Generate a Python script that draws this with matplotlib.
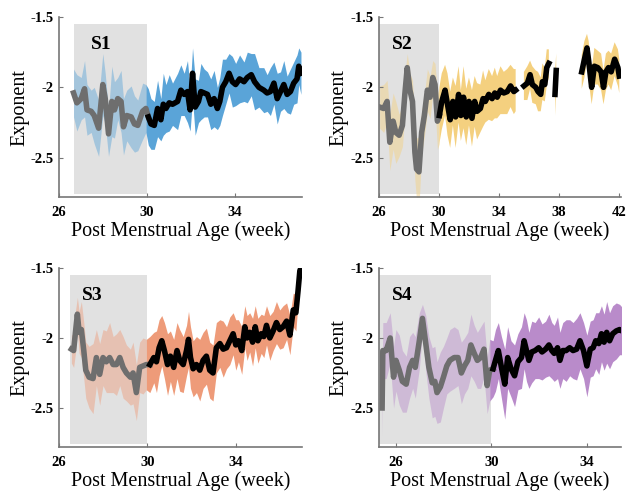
import numpy as np
import matplotlib
matplotlib.use('Agg')
import matplotlib.pyplot as plt
from matplotlib.patches import Rectangle

plt.rcParams['font.family'] = ['Liberation Serif', 'DejaVu Serif']

# ---- data ----
# S1
s1_x = [26.66, 26.81, 27.01, 27.16, 27.27, 27.46, 27.6, 27.8, 27.99, 28.1, 28.25, 28.4, 28.52, 28.67, 28.82,
        28.93, 29.08, 29.28, 29.43, 29.58, 29.8, 29.95,
        30.06, 30.18, 30.33, 30.48, 30.63, 30.74, 30.86, 31.01, 31.16, 31.39,
        31.54, 31.69, 31.84, 31.96, 32.07, 32.19, 32.34, 32.45, 32.6, 32.75,
        32.9, 33.05, 33.2, 33.31, 33.43, 33.58, 33.73, 33.88, 34.03, 34.21,
        34.41, 34.56, 34.74, 34.89, 35.09, 35.31, 35.46, 35.61, 35.77, 35.92,
        36.07, 36.22, 36.37, 36.52, 36.67, 36.82, 36.9, 37.0]
s1_mean = [-2.04, -2.11, -2.08, -2.01, -2.16, -2.17, -2.2, -2.29, -1.98, -2.08, -2.33, -2.1, -2.16, -2.08, -2.1,
           -2.28, -2.2, -2.21, -2.26, -2.27, -2.17, -2.15,
           -2.21, -2.26, -2.27, -2.15, -2.23, -2.12, -2.15, -2.11, -2.12, -2.1,
           -2.02, -2.05, -2.03, -2.16, -1.9, -2.14, -2.1, -2.03, -2.04, -2.05,
           -2.12, -2.08, -2.15, -2.1, -2.0, -1.96, -1.9, -1.96, -1.98, -1.94,
           -1.96, -1.93, -1.91, -1.96, -2.0, -2.02, -2.04, -2.03, -1.97, -2.08,
           -2.03, -1.98, -2.05, -2.03, -1.97, -1.94, -1.85, -1.9]
s1_sd = [0.17, 0.2, 0.15, 0.2, 0.18, 0.15, 0.2, 0.2, 0.22, 0.18, 0.16, 0.25, 0.2, 0.15, 0.22,
         0.2, 0.18, 0.22, 0.2, 0.18, 0.2, 0.17,
         0.2, 0.18, 0.17, 0.2, 0.15, 0.22, 0.17, 0.2, 0.15, 0.2,
         0.18, 0.15, 0.22, 0.15, 0.18, 0.2, 0.15, 0.2, 0.17, 0.16,
         0.18, 0.2, 0.15, 0.17, 0.2, 0.16, 0.14, 0.18, 0.15, 0.17,
         0.14, 0.18, 0.15, 0.2, 0.14, 0.16, 0.13, 0.17, 0.15, 0.18,
         0.14, 0.17, 0.13, 0.16, 0.15, 0.17, 0.13, 0.15]

# S2 (nan = missing weeks)
nan = np.nan
s2_x = [26.04, 26.31, 26.54, 26.72, 26.94, 27.12, 27.34, 27.56, 27.72, 27.88, 28.06, 28.23, 28.39, 28.5,
        28.66, 28.84, 29.02, 29.22, 29.4, 29.58, 29.73, 29.89, 30.02,
        30.18, 30.4, 30.56, 30.74, 30.92, 31.1, 31.3, 31.45, 31.63, 31.81, 31.99, 32.19, 32.37, 32.53,
        32.75, 32.93, 33.08, 33.31, 33.53, 33.71, 33.87, 34.09, 34.31, 34.54, 34.76, 34.98, 35.1,
        35.3,
        35.65, 35.88, 36.06, 36.21, 36.44, 36.59, 36.77, 36.88, 37.04, 37.17, 37.31,
        37.5,
        37.72, 37.8,
        38.5,
        39.5, 39.68, 39.85, 39.96, 40.16, 40.34, 40.57, 40.79, 40.95, 41.11, 41.28, 41.46, 41.69, 41.91, 42.0]
s2_mean = [-2.14, -2.15, -2.1, -2.39, -2.24, -2.32, -2.34, -2.27, -2.05, -1.86, -2.02, -2.1, -2.46, -2.58,
           -2.6, -2.32, -2.2, -2.02, -2.07, -1.93, -1.98, -2.24, -2.2,
           -2.1, -2.02, -2.12, -2.23, -2.1, -2.21, -2.05, -2.2, -2.07, -2.21, -2.1, -2.22, -2.1, -2.17,
           -2.15, -2.08, -2.1, -2.05, -2.08, -2.04, -2.07, -2.02, -2.04, -2.03, -1.99, -2.03, -2.02,
           nan,
           -1.99, -1.97, -1.91, -1.98, -2.0, -2.03, -2.05, -1.96, -1.98, -1.86, -1.83,
           nan,
           -2.05, -1.88,
           nan,
           -1.89, -1.8, -1.72, -1.81, -2.0, -1.85, -1.86, -1.89, -2.0, -1.89, -1.86, -1.89, -1.8, -1.86, -1.92]
s2_sd = [0.15, 0.17, 0.15, 0.2, 0.2, 0.22, 0.15, 0.15, 0.15, 0.1, 0.12, 0.15, 0.2, 0.22,
         0.25, 0.15, 0.15, 0.15, 0.15, 0.12, 0.15, 0.2, 0.2,
         0.2, 0.18, 0.22, 0.2, 0.17, 0.22, 0.2, 0.18, 0.22, 0.2, 0.17, 0.2, 0.18, 0.2,
         0.17, 0.2, 0.15, 0.18, 0.16, 0.18, 0.15, 0.17, 0.15, 0.16, 0.15, 0.16, 0.15,
         nan,
         0.1, 0.12, 0.1, 0.13, 0.12, 0.14, 0.12, 0.13, 0.12, 0.13, 0.1,
         nan,
         0.15, 0.12,
         nan,
         0.12, 0.13, 0.1, 0.14, 0.12, 0.13, 0.12, 0.13, 0.12, 0.13, 0.12, 0.13, 0.12, 0.13, 0.12]

# S3
s3_x = [26.56, 26.66, 26.75, 26.83, 26.91, 27.01, 27.12, 27.21, 27.36, 27.54, 27.69, 27.84, 27.99, 28.14,
        28.29, 28.45, 28.6, 28.75, 28.9, 29.05, 29.23, 29.35, 29.5, 29.65, 29.8, 29.95,
        30.11, 30.29, 30.41, 30.53, 30.65, 30.77, 30.91, 31.04, 31.19, 31.34,
        31.46, 31.62, 31.77, 31.86, 31.95, 32.07, 32.22, 32.37, 32.52, 32.67,
        32.82, 32.97, 33.12, 33.28, 33.43, 33.58, 33.73, 33.88, 34.0, 34.12,
        34.27, 34.41, 34.51, 34.63, 34.76, 34.88, 35.0, 35.15, 35.27, 35.39,
        35.54, 35.69, 35.84, 35.99, 36.14, 36.3, 36.45, 36.6, 36.72, 36.82, 36.9, 36.95]
s3_mean = [-2.08, -2.09, -1.95, -1.83, -1.96, -1.94, -2.09, -2.23, -2.28, -2.29, -2.14, -2.26, -2.14, -2.17,
           -2.14, -2.19, -2.19, -2.14, -2.21, -2.25, -2.28, -2.25, -2.39, -2.21, -2.2, -2.19,
           -2.19, -2.14, -2.17, -2.07, -2.02, -2.09, -2.19, -2.13, -2.21, -2.09,
           -2.16, -2.19, -2.09, -2.01, -2.14, -2.22, -2.19, -2.23, -2.16, -2.13,
           -2.23, -2.25, -2.07, -2.04, -2.08, -2.07, -2.02, -1.97, -2.05, -2.02,
           -2.09, -1.92, -2.0, -1.96, -2.03, -1.92, -2.02, -1.97, -1.99, -1.91,
           -2.0, -1.95, -1.89, -1.94, -1.92, -1.88, -1.98, -1.8, -1.82, -1.66, -1.52, -1.5]
s3_sd = [0.1, 0.12, 0.15, 0.12, 0.15, 0.2, 0.2, 0.2, 0.22, 0.25, 0.2, 0.22, 0.2, 0.22,
         0.25, 0.2, 0.22, 0.2, 0.22, 0.2, 0.2, 0.22, 0.2, 0.18, 0.2, 0.18,
         0.2, 0.18, 0.22, 0.2, 0.18, 0.2, 0.22, 0.18, 0.2, 0.2,
         0.22, 0.2, 0.18, 0.2, 0.22, 0.2, 0.2, 0.22, 0.2, 0.2,
         0.2, 0.2, 0.18, 0.17, 0.2, 0.15, 0.17, 0.15, 0.18, 0.15,
         0.17, 0.15, 0.16, 0.14, 0.17, 0.15, 0.16, 0.14, 0.15, 0.14,
         0.16, 0.14, 0.15, 0.14, 0.15, 0.13, 0.14, 0.12, 0.13, 0.08, 0.03, 0.02]

# S4
s4_x = [25.42, 25.45, 25.59, 25.76, 25.9, 26.0, 26.14, 26.27, 26.43, 26.57, 26.7, 26.81, 26.98, 27.11,
        27.25, 27.38, 27.52, 27.63, 27.72, 27.86, 27.99, 28.13, 28.26, 28.44, 28.6, 28.74, 28.87,
        29.01, 29.14, 29.28, 29.41, 29.55, 29.69, 29.82, 29.93,
        30.07, 30.17, 30.29, 30.42, 30.56, 30.68, 30.82, 30.97, 31.11, 31.26, 31.37, 31.47, 31.57,
        31.69, 31.83, 31.98, 32.12, 32.27, 32.41, 32.53, 32.63, 32.77, 32.87, 32.99, 33.13, 33.28,
        33.42, 33.57, 33.71, 33.86, 34.0, 34.14, 34.26, 34.37, 34.5, 34.61, 34.72, 34.83, 34.95,
        35.08, 35.23, 35.37, 35.47]
s4_mean = [-2.5, -2.09, -2.09, -2.0, -2.28, -2.16, -2.23, -2.31, -2.33, -2.21, -2.16, -2.21, -2.02, -1.86,
           -2.04, -2.21, -2.32, -2.31, -2.39, -2.35, -2.28, -2.2, -2.16, -2.14, -2.14, -2.25, -2.2,
           -2.16, -2.05, -2.11, -2.16, -2.14, -2.08, -2.34, -2.23,
           -2.22, -2.16, -2.09, -2.21, -2.33, -2.14, -2.22, -2.27, -2.17, -2.14, -2.02, -2.09, -2.16,
           -2.1, -2.09, -2.07, -2.1, -2.08, -2.05, -2.09, -2.11, -2.07, -2.16, -2.09, -2.09, -2.07,
           -2.09, -2.08, -2.02, -2.09, -2.2, -2.08, -2.07, -2.02, -2.04, -1.97, -2.03, -1.96, -2.02,
           -1.97, -1.95, -1.94, -1.95]
s4_sd = [0.2, 0.2, 0.2, 0.18, 0.22, 0.22, 0.25, 0.22, 0.2, 0.22, 0.2, 0.22, 0.2, 0.1,
         0.2, 0.22, 0.25, 0.25, 0.22, 0.25, 0.22, 0.2, 0.22, 0.22, 0.2, 0.22, 0.2,
         0.2, 0.22, 0.2, 0.2, 0.22, 0.2, 0.2, 0.22,
         0.2, 0.22, 0.2, 0.22, 0.25, 0.22, 0.2, 0.22, 0.2, 0.22, 0.2, 0.22, 0.2,
         0.22, 0.2, 0.22, 0.2, 0.2, 0.22, 0.2, 0.2, 0.22, 0.2, 0.2, 0.22, 0.2,
         0.2, 0.22, 0.2, 0.2, 0.22, 0.2, 0.2, 0.2, 0.22, 0.2, 0.2, 0.22, 0.2,
         0.2, 0.2, 0.18, 0.17]

subjects = ['S1', 'S2', 'S3', 'S4']
xs = [s1_x, s2_x, s3_x, s4_x]
means = [s1_mean, s2_mean, s3_mean, s4_mean]
sds = [s1_sd, s2_sd, s3_sd, s4_sd]
xlims = [(26, 37.05), (26, 42.1), (26, 37.0), (25.29, 35.42)]
xticks = [[26, 30, 34], [26, 30, 34, 38, 42], [26, 30, 34], [26, 30, 34]]
box_left = [26.68, 26.0, 26.5, 25.29]
band_colors = ['#5aa4d8', '#f4d07f', '#ee9b79', '#b98bca']
label_x = [0.13, 0.055, 0.095, 0.055]

# axes placement in figure fractions
positions = [[0.094, 0.604, 0.387, 0.362], [0.6035, 0.604, 0.385, 0.362],
             [0.094, 0.102, 0.387, 0.36], [0.6035, 0.102, 0.385, 0.36]]

fig = plt.figure(figsize=(6.28, 4.98), dpi=100)

for i in range(4):
    ax = fig.add_axes(positions[i])
    x = np.array(xs[i])
    m = np.array(means[i])
    s = np.array(sds[i])

    # shaded early window
    ax.add_patch(Rectangle((box_left[i], -2.76), 30 - box_left[i], 1.21,
                           facecolor='#e1e1e1', edgecolor='none', zorder=0))

    early = x <= 30.05
    late = x >= 29.9
    ax.fill_between(x, m - s, m + s, where=early, color=band_colors[i], alpha=0.45,
                    linewidth=0, zorder=1)
    ax.fill_between(x, m - s, m + s, where=late, color=band_colors[i], alpha=1.0,
                    linewidth=0, zorder=1)

    split = np.argmax(x >= 30)
    ax.plot(x[:split + 1], m[:split + 1], color='#6e6e6e', lw=4, zorder=2)
    ax.plot(x[split:], m[split:], color='black', lw=4, zorder=3)

    ax.text(label_x[i], 0.845, subjects[i], transform=ax.transAxes, fontsize=14,
            fontweight='bold', va='center', ha='left')

    ax.set_xlim(xlims[i])
    ax.set_ylim(-2.78, -1.5)
    ax.set_xticks(xticks[i])
    ax.set_yticks([-2.5, -2, -1.5])
    ax.set_yticklabels(['-2.5', '-2', '-1.5'])
    for lab in ax.get_xticklabels() + ax.get_yticklabels():
        lab.set_fontweight('bold')
    ax.tick_params(direction='in', length=3, width=0.8, color='#777777',
                   labelsize=10.5, pad=4)
    ax.tick_params(axis='x', pad=6)
    for side in ['top', 'right']:
        ax.spines[side].set_visible(False)
    for side in ['left', 'bottom']:
        ax.spines[side].set_color('#777777')
        ax.spines[side].set_linewidth(1.2)

    ax.set_xlabel('Post Menstrual Age (week)', fontsize=14.5, labelpad=2)
    ax.set_ylabel('Exponent', fontsize=14.5, labelpad=1)

fig.savefig('out.png', dpi=100)
